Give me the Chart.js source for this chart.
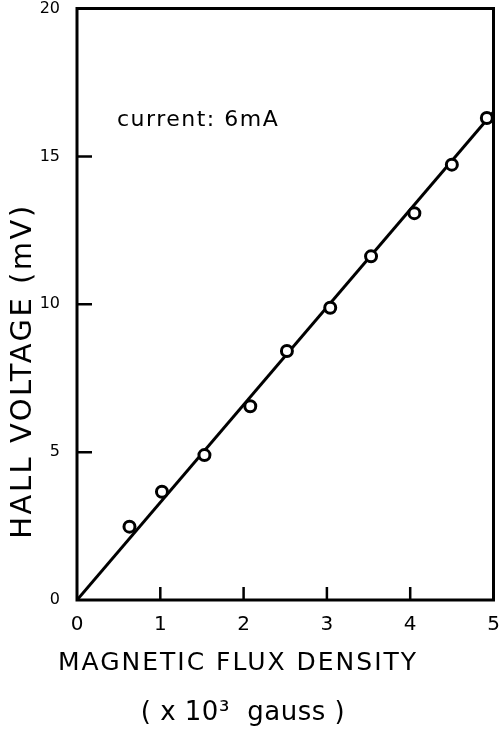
<!DOCTYPE html>
<html>
<head>
<meta charset="utf-8">
<script src="https://cdn.jsdelivr.net/npm/chart.js@4"></script>
<style>
  html, body { margin: 0; padding: 0; background: #fff; }
  canvas { display: block; }
</style>
</head>
<body>
<canvas id="hallChart" width="502" height="731"></canvas>
<script>
// measured points (x 10^3 gauss, mV)
const fluxDensity = [0.63, 1.02, 1.53, 2.08, 2.52, 3.04, 3.53, 4.05, 4.5, 4.92];
const hallVoltage = [2.48, 3.66, 4.9, 6.55, 8.42, 9.88, 11.62, 13.08, 14.72, 16.3];

// fitted straight line
const fitX = [0, 5];
const fitY = [0, 16.5];

const xTickValues = [1, 2, 3, 4];
const yTickValues = [5, 10, 15];

const yTitle = 'HALL VOLTAGE (mV)';
const xTitle = ['MAGNETIC FLUX DENSITY', '( x 10³  gauss )'];
const note = 'current: 6mA';

const FONT = '"DejaVu Sans", sans-serif';

// box, inward ticks and titles
const framePlugin = {
    id: 'frame',
    afterDraw(chart) {
        const ctx = chart.ctx;
        const a = chart.chartArea;
        const xs = chart.scales.x;
        const ys = chart.scales.y;
        ctx.save();
        ctx.strokeStyle = '#000';
        ctx.lineWidth = 3;
        ctx.strokeRect(a.left, a.top, a.right - a.left, a.bottom - a.top);

        ctx.lineWidth = 2.5;
        ctx.beginPath();
        xTickValues.forEach(v => {
            const px = xs.getPixelForValue(v);
            ctx.moveTo(px, a.bottom);
            ctx.lineTo(px, a.bottom - 13);
        });
        yTickValues.forEach(v => {
            const py = ys.getPixelForValue(v);
            ctx.moveTo(a.left, py);
            ctx.lineTo(a.left + 15, py);
        });
        ctx.stroke();

        ctx.fillStyle = '#000';
        ctx.textAlign = 'center';
        ctx.textBaseline = 'middle';

        // y axis title
        ctx.save();
        ctx.translate(23, 371);
        ctx.rotate(-Math.PI / 2);
        ctx.font = '29px ' + FONT;
        ctx.letterSpacing = '2.5px';
        ctx.fillText(yTitle, 0, 0);
        ctx.restore();

        // x axis title, two lines
        ctx.save();
        ctx.font = '25px ' + FONT;
        ctx.letterSpacing = '2px';
        ctx.fillText(xTitle[0], 238, 663);
        ctx.font = '26px ' + FONT;
        ctx.letterSpacing = '0.5px';
        ctx.fillText(xTitle[1], 243, 713);
        ctx.restore();

        // annotation
        ctx.textAlign = 'left';
        ctx.font = '22px ' + FONT;
        ctx.letterSpacing = '1.5px';
        ctx.fillText(note, 117, 120);
        ctx.restore();
    }
};

const ctx = document.getElementById('hallChart').getContext('2d');

new Chart(ctx, {
    type: 'scatter',
    data: {
        datasets: [
            {
                label: 'measured',
                data: fluxDensity.map((x, i) => ({ x: x, y: hallVoltage[i] })),
                showLine: false,
                pointStyle: 'circle',
                pointRadius: 5.5,
                pointBorderWidth: 3,
                pointBackgroundColor: '#fff',
                pointBorderColor: '#000',
            },
            {
                label: 'fit',
                type: 'line',
                data: fitX.map((x, i) => ({ x: x, y: fitY[i] })),
                borderColor: '#000',
                borderWidth: 3,
                pointRadius: 0,
                fill: false,
            },
        ],
    },
    options: {
        responsive: false,
        animation: false,
        layout: {
            padding: { left: 0, top: 8, right: 4, bottom: 0 },
        },
        plugins: {
            legend: { display: false },
            tooltip: { enabled: false },
        },
        scales: {
            x: {
                type: 'linear',
                min: 0,
                max: 5,
                grid: { display: false },
                border: { display: false },
                ticks: {
                    stepSize: 1,
                    padding: 5,
                    color: '#000',
                    font: { family: FONT, size: 20 },
                },
                afterFit: s => {
                    s.height = 131;
                    s.paddingLeft = 0;
                    s.paddingRight = 0;
                },
            },
            y: {
                min: 0,
                max: 20,
                grid: { display: false },
                border: { display: false },
                ticks: {
                    stepSize: 5,
                    padding: 9,
                    color: '#000',
                    font: { family: FONT, size: 16 },
                },
                afterFit: s => {
                    s.width = 77;
                    s.paddingTop = 0;
                    s.paddingBottom = 0;
                },
            },
        },
    },
    plugins: [framePlugin],
});
</script>
</body>
</html>
